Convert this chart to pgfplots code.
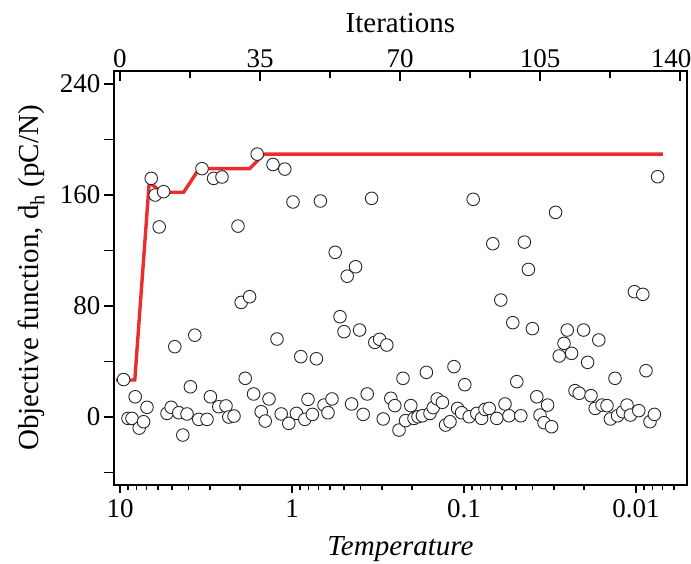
\documentclass[border=0pt]{standalone}
\usepackage{fontspec}
\setmainfont{Liberation Serif}
\usepackage{pgfplots}
\pgfplotsset{compat=1.18}
\definecolor{bestred}{RGB}{237,45,45}
\begin{document}
\begin{tikzpicture}
\pgfplotsset{
  every axis/.append style={
    scale only axis, width=573pt, height=414pt,
    axis line style={line width=1.8pt},
    tick style={line width=1.6pt, black},
    tick label style={font=\fontsize{27}{30}\selectfont},
    label style={font=\fontsize{29}{32}\selectfont},
    /pgf/number format/assume math mode=true,
  }
}
% iterations (top) and objective values
\begin{axis}[
  xmin=-1.5, xmax=141.75, ymin=-49, ymax=249.4,
  xtick={0,35,70,105,140}, minor x tick num=1,
  xticklabels={0,35,70,105,{\hspace*{-18pt}140}},
  xtick pos=right, xticklabel pos=right, xtick align=inside,
  ytick={-40,0,40,80,120,160,200,240},
  yticklabels={,0,,80,,160,,240},
  ytick pos=left, ytick align=outside,
  major tick length=10pt, minor tick length=7pt,
  xlabel={Iterations},
  xlabel style={yshift=10pt},
  ylabel={Objective function, d\textsubscript{h} (pC/N)},
  ylabel style={yshift=8pt},
]
\coordinate (bl) at (rel axis cs:0,0);
\coordinate (tr) at (rel axis cs:1,1);
% best value so far
\addplot[color=bestred, line width=3.4pt] coordinates {
  (-1,26.7) (3.7,26.7) (7.3,169) (10.5,162) (15.9,162) (19.8,179)
  (32.4,179) (36,189.5) (135.7,189.5)
};
% every trial
\addplot[only marks, mark=*, mark size=6.3pt,
  mark options={fill=white, draw=black!85, line width=0.9pt}] coordinates {
  (0.9,27) (2,-1) (3,-1) (3.8,14.6) (4.8,-8) (5.9,-3.4) (6.75,7)
  (7.8,172) (8.8,160) (9.8,137) (10.9,162.4) (11.75,2.6) (12.8,7)
  (13.7,50.7) (14.7,3.1) (15.7,-13) (16.75,2.2) (17.6,21.8) (18.7,59)
  (19.7,-1.7) (20.5,179) (21.75,-1.7) (22.6,14.6) (23.4,172) (24.7,7.4)
  (25.5,173) (26.5,8) (27.2,0) (28.5,0.7) (29.5,137.6) (30.3,82.6)
  (31.3,27.9) (32.4,86.7) (33.4,16.6) (34.3,189.5) (35.3,3.8) (36.3,-2.9)
  (37.25,13) (38.25,182) (39.25,56.2) (40.3,2.2) (41.2,178.7) (42.2,-4.6)
  (43.25,155) (44.1,2.6) (45.2,43.5) (46.2,-1.7) (47,12.7) (48.1,1.9)
  (49.1,42) (50.1,155.7) (51,8.6) (52,3.1) (53,13) (53.8,118.7)
  (55,72.3) (56,61.5) (56.8,101.5) (57.9,9.4) (58.9,108.3) (59.9,62.7)
  (60.8,1.9) (61.8,16.6) (62.9,157.6) (63.7,53.8) (64.9,56) (65.8,-1.4)
  (66.7,51.9) (67.7,13.5) (68.7,8.2) (69.75,-9.4) (70.75,27.9) (71.4,-2.6)
  (72.7,8.2) (73.5,-1) (74.5,0.2) (75.6,0.9) (76.6,32.2) (77.5,2.6)
  (78.3,6.7) (79.3,13) (80.6,10.6) (81.4,-5.8) (82.5,-3.4) (83.5,36.3)
  (84.4,6.2) (85.4,3.1) (86.2,23.3) (87.3,0.2) (88.3,156.9) (89.2,2.6)
  (90.4,-1) (91.25,5.5) (92.3,6.2) (93.2,124.9) (94.2,-1) (95.2,84.3)
  (96.25,9.4) (97.25,0.9) (98.2,68) (99.2,25.5) (100.2,0.9) (101.1,126.1)
  (102.1,106.4) (103.1,63.7) (104.2,14.6) (105,1.4) (106,-4.1) (106.9,8.6)
  (107.9,-7) (108.9,147.5) (109.8,44) (111,53.1) (111.8,62.7) (112.9,45.9)
  (113.75,19) (114.8,17.1) (115.9,62.7) (116.9,39.4) (117.75,15.4)
  (118.8,6.2) (119.7,55.5) (120.5,8.6) (121.75,8.2) (122.6,-1.4)
  (123.75,27.9) (124.4,0.9) (125.7,3.8) (126.75,8.6) (127.6,1.4)
  (128.6,90.3) (129.7,4.6) (130.7,88.4) (131.5,33.4) (132.5,-3.4)
  (133.6,1.9) (134.4,173.2)
};
\end{axis}
% temperature (bottom, log scale)
\begin{axis}[
  xmode=log, x dir=reverse, xmin=0.00505, xmax=10.84,
  ymin=0, ymax=1,
  axis y line=none, axis x line*=bottom,
  xtick={10,1,0.1,0.01}, xticklabels={10,1,0.1,0.01},
  minor xtick={9,8,7,6,5,4,3,2,0.9,0.8,0.7,0.6,0.5,0.4,0.3,0.2,
    0.09,0.08,0.07,0.06,0.05,0.04,0.03,0.02,0.009,0.008,0.007,0.006},
  xtick align=outside, major tick length=8pt, minor tick length=5pt,
  xticklabel style={yshift=-3pt},
  xlabel={\textit{Temperature}},
  xlabel style={yshift=-12pt},
]
\end{axis}
\pgfresetboundingbox
\path ([shift={(-114pt,-79pt)}]bl) rectangle ([shift={(4pt,71pt)}]tr);
\end{tikzpicture}
\end{document}
